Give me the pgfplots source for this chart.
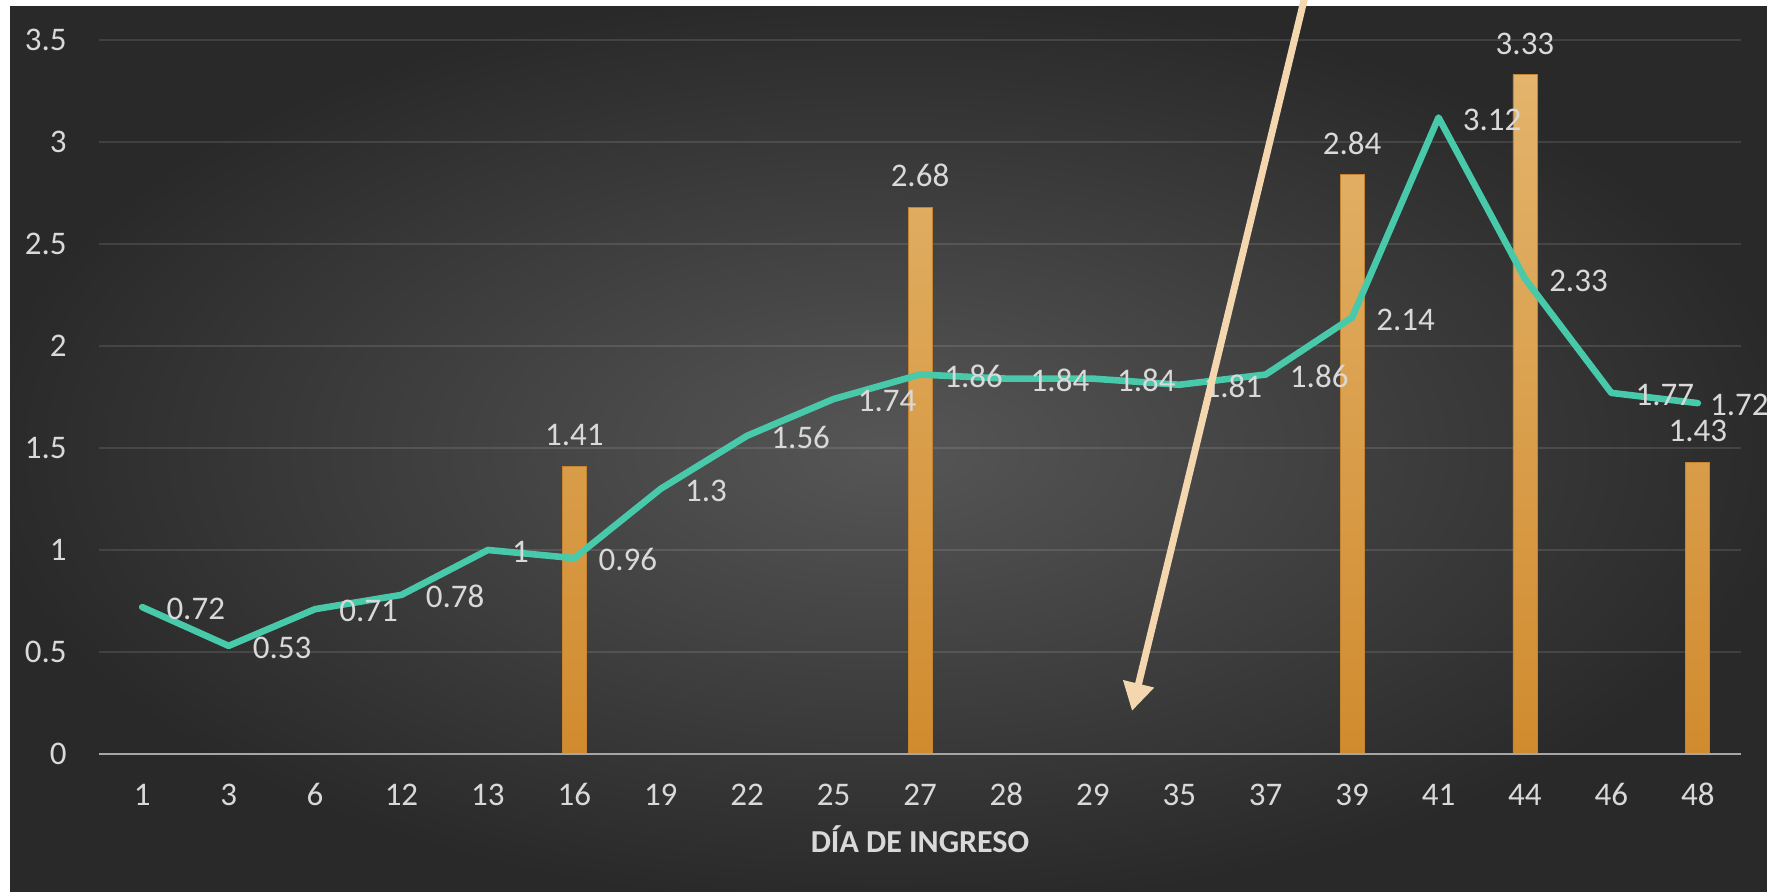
\documentclass[border=0pt]{standalone}
\usepackage{fontspec}
\setmainfont{Carlito}
\usepackage{pgfplots}
\usepackage{pgfplotstable}
\pgfplotsset{compat=1.18}
\usetikzlibrary{arrows.meta}

\definecolor{bgin}{HTML}{565656}
\definecolor{bgout}{HTML}{292929}
\definecolor{lbl}{HTML}{D9D9D9}
\definecolor{gridc}{HTML}{FFFFFF}
\definecolor{axisc}{HTML}{A6A6A6}
\definecolor{tealline}{HTML}{48C9A9}
\definecolor{bartop}{HTML}{E3B46C}
\definecolor{barbot}{HTML}{D18B2E}
\definecolor{baredge}{HTML}{C5842F}
\definecolor{arrowc}{HTML}{F4D7AE}

\pgfdeclareradialshading{chartbg}{\pgfpoint{0bp}{0bp}}{%
  color(0bp)=(bgin); color(26bp)=(bgout); color(50bp)=(bgout)}

\newcommand{\lblfont}{\fontsize{16.5}{19}\selectfont}

% line series: category index, value, label offset (pt)
\pgfplotstableread{
x  y     dx
0  0.72  10.5
1  0.53  10.5
2  0.71  10.5
3  0.78  10.5
4  1     10.5
5  0.96  10.5
6  1.3   10.5
7  1.56  10.5
8  1.74  10.5
9  1.86  10.5
10 1.84  10.5
11 1.84  10.5
12 1.81  10.5
13 1.86  10.5
14 2.14  10.5
15 3.12  10.5
16 2.33  10.5
17 1.77  10.5
18 1.72  4.5
}\linedata

% columns
\pgfplotstableread{
x  y
5  1.41
9  2.68
14 2.84
16 3.33
18 1.43
}\bardata

\begin{document}
\begin{tikzpicture}
  % page and chart background
  \fill[white] (0pt,0pt) rectangle (883.5pt,446pt);
  \shade[shading=chartbg] (5pt,0pt) rectangle (883.5pt,442.5pt);
  \useasboundingbox (0pt,0pt) rectangle (883.5pt,446pt);

  \begin{axis}[
    at={(49.5pt,69pt)}, anchor=south west,
    scale only axis, width=821pt, height=357pt,
    xmin=-0.5, xmax=18.5, ymin=0, ymax=3.5,
    clip=false,
    axis line style={draw=none},
    major tick length=0pt,
    xtick={0,...,18},
    xticklabels={1,3,6,12,13,16,19,22,25,27,28,29,35,37,39,41,44,46,48},
    ytick={0,0.5,1,1.5,2,2.5,3,3.5},
    yticklabels={0,0.5,1,1.5,2,2.5,3,3.5},
    ymajorgrids,
    major grid style={draw=gridc, draw opacity=0.11, line width=1pt},
    x tick label style={anchor=base, inner sep=0pt, yshift=-25.85pt, font=\lblfont, text=lbl},
    y tick label style={anchor=base east, inner sep=0pt, xshift=-16pt, yshift=-5.35pt, font=\lblfont, text=lbl},
    xlabel={DÍA DE INGRESO},
    xlabel style={at={(axis description cs:0.5,0)}, anchor=base, inner sep=0pt,
      yshift=-49.15pt, font=\fontsize{16}{19}\selectfont\bfseries, text=lbl},
    /pgf/number format/assume math mode=true,
  ]
    % columns
    \addplot[ybar, bar width=12pt, top color=bartop, bottom color=barbot,
      draw=baredge, line width=0.4pt,
      nodes near coords,
      every node near coord/.append style={anchor=base, inner sep=0pt,
        yshift=10.2pt, font=\lblfont, text=lbl}]
      table[x=x, y=y] {\bardata};

    % line series
    \addplot[color=tealline, line width=3.3pt, line join=round, line cap=round, mark=none,
      visualization depends on={\thisrow{dx} \as \labdx},
      nodes near coords,
      every node near coord/.append style={anchor=base west, inner sep=0pt,
        xshift=\labdx pt, yshift=-6.35pt, font=\lblfont, text=lbl}]
      table[x=x, y=y] {\linedata};

    % baseline
    \draw[axisc, line width=1pt] (axis cs:-0.5,0) -- (axis cs:18.5,0);
  \end{axis}

  % callout arrow
  \draw[arrowc, line width=3.5pt, -{Triangle[width=15pt,length=14pt]}]
    (653pt,450pt) -- (566pt,90.5pt);
\end{tikzpicture}
\end{document}
